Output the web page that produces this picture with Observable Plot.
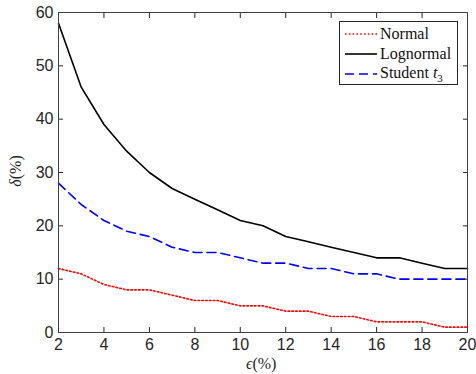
<!DOCTYPE html>
<html><head><meta charset="utf-8">
<script src="https://cdn.jsdelivr.net/npm/d3@7"></script>
<script src="https://cdn.jsdelivr.net/npm/@observablehq/plot@0.6"></script>
<style>
body{margin:0;background:#fff}
#chart{position:relative;width:476px;height:374px;overflow:hidden}
.lab{position:absolute;font-family:"Liberation Serif",serif;font-size:16px;color:#262626;white-space:nowrap}
#legend{position:absolute;left:339px;top:21px;width:119px;height:64px;border:1px solid #262626;background:#fff;box-sizing:border-box}
.row{position:absolute;left:4px;height:20px;display:flex;align-items:center;font-family:"Liberation Serif",serif;font-size:16px;color:#111}
.row span, .row i, .row sub{font-family:"Liberation Serif",serif}
.row svg{margin-right:2px}
</style>
</head><body><div id="chart"></div>
<script>
const eps = [2,3,4,5,6,7,8,9,10,11,12,13,14,15,16,17,18,19,20];
const normal    = [12,11,9,8,8,7,6,6,5,5,4,4,3,3,2,2,2,1,1];
const lognormal = [58,46,39,34,30,27,25,23,21,20,18,17,16,15,14,14,13,12,12];
const student   = [28,24,21,19,18,16,15,15,14,13,13,12,12,11,11,10,10,10,10];
const xTicks = [2,4,6,8,10,12,14,16,18,20];
const yTicks = [0,10,20,30,40,50,60];
const seriesNames = ["Normal","Lognormal","Student"];
const seriesValues = [normal, lognormal, student];
const seriesStyle = {
  Normal: {stroke:"#ff0000", dash:"1.6,2.2"},
  Lognormal: {stroke:"#000000", dash:null},
  Student: {stroke:"#0000ff", dash:"9,5"}
};
const rows = seriesNames.flatMap((s, i) => eps.map((e, j) => ({series: s, x: e, y: seriesValues[i][j]})));

const lineMarks = seriesNames.map(s => Plot.line(rows.filter(r => r.series === s), {
  x: "x", y: "y", stroke: seriesStyle[s].stroke, strokeWidth: 1.6,
  strokeDasharray: seriesStyle[s].dash, strokeLinejoin: "round"
}));

const plot = Plot.plot({
  width: 476, height: 374,
  marginLeft: 58, marginRight: 9, marginTop: 12, marginBottom: 42,
  x: {domain: [2, 20]},
  y: {domain: [0, 60]},
  style: {fontFamily: "Liberation Sans, Arial, sans-serif", fontSize: "16px", color: "#262626", background: "#fff"},
  marks: [
    ...lineMarks,
    Plot.axisX({ticks: xTicks, tickSize: -5, tickPadding: 11, label: null}),
    Plot.axisX({anchor: "top", ticks: xTicks, tickSize: -5, tickFormat: () => "", label: null}),
    Plot.axisY({ticks: yTicks, tickSize: -5, tickPadding: 10, label: null}),
    Plot.axisY({anchor: "right", ticks: yTicks, tickSize: -5, tickFormat: () => "", label: null}),
    Plot.frame({stroke: "#404040", strokeWidth: 1})
  ]
});
const chart = document.getElementById("chart");
chart.appendChild(plot);

const xl = document.createElement("div");
xl.className = "lab";
xl.style.left = "246px"; xl.style.top = "355px";
xl.innerHTML = "<i>ϵ</i>(%)";
chart.appendChild(xl);

const yl = document.createElement("div");
yl.className = "lab";
yl.style.left = "0px"; yl.style.top = "162px";
yl.style.transform = "rotate(-90deg)";
yl.innerHTML = "<i>δ</i>(%)";
chart.appendChild(yl);

const leg = document.createElement("div");
leg.id = "legend";
const labels = {Normal: "Normal", Lognormal: "Lognormal", Student: "Student&nbsp;<i>t</i><sub style='font-size:11px'>3</sub>"};
seriesNames.forEach((s, i) => {
  const r = document.createElement("div");
  r.className = "row";
  r.style.top = (2 + i * 20) + "px";
  const st = seriesStyle[s];
  r.innerHTML = `<svg width="34" height="6"><line x1="1" y1="3" x2="33" y2="3" stroke="${st.stroke}" stroke-width="1.6" ${st.dash ? `stroke-dasharray="${st.dash}"` : ""}/></svg><span>${labels[s]}</span>`;
  leg.appendChild(r);
});
chart.appendChild(leg);
</script>
</body></html>
